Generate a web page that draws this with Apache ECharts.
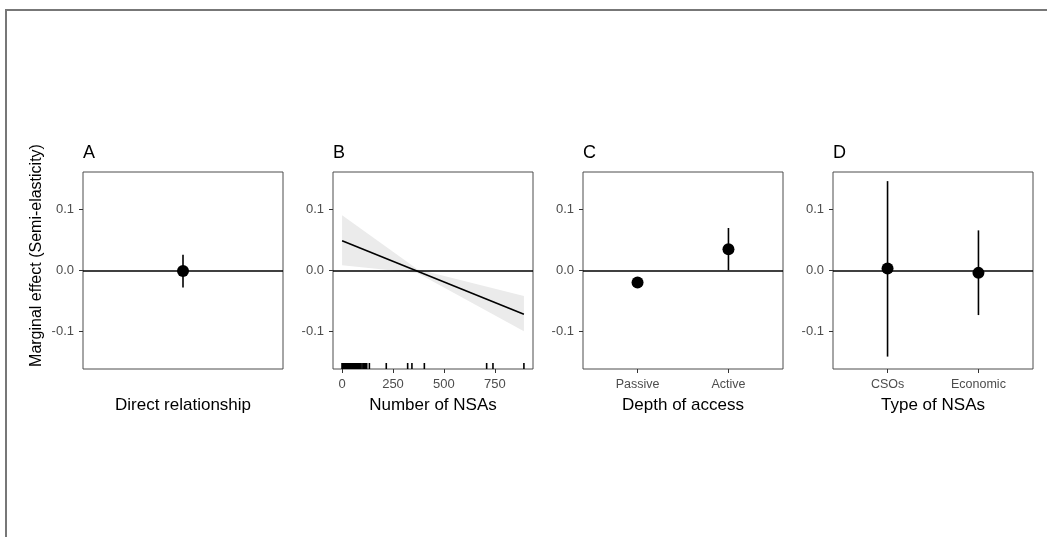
<!DOCTYPE html>
<html>
<head>
<meta charset="utf-8">
<script src="https://cdn.jsdelivr.net/npm/echarts@6/dist/echarts.min.js"></script>
<style>
  html, body { margin: 0; padding: 0; background: #fff; }
  #chart { width: 1047px; height: 537px; }
</style>
</head>
<body>
<div id="chart"></div>
<script>
// panel labels and axis titles
const panelLetters = ['A', 'B', 'C', 'D'];
const axisTitles = ['Direct relationship', 'Number of NSAs', 'Depth of access', 'Type of NSAs'];
const yTitle = 'Marginal effect (Semi-elasticity)';
const yTicks = [-0.1, 0, 0.1];

// A: direct relationship
const directEst = [-0.001];
const directLow = [-0.028];
const directHigh = [0.026];

// B: number of NSAs
const nsaTicks = [0, 250, 500, 750];
const nsaFitX = [0, 893];
const nsaFitY = [0.049, -0.072];
const nsaBandX = [0, 370, 893];
const nsaBandLow = [0.0087, -0.004, -0.1];
const nsaBandHigh = [0.0907, 0.002, -0.042];
const nsaRug = [0, 2, 4, 6, 9, 11, 14, 16, 19, 22, 25, 28, 31, 34, 37, 40, 44, 48, 52, 56,
    60, 65, 70, 75, 80, 86, 92, 98, 104, 110, 116, 121, 134, 217, 322, 343, 404, 710, 741, 893];

// C: depth of access
const depthCats = ['Passive', 'Active'];
const depthEst = [-0.0197, 0.0349];
const depthLow = [-0.024, 0.0005];
const depthHigh = [-0.015, 0.0699];

// D: type of NSAs
const typeCats = ['CSOs', 'Economic'];
const typeEst = [0.0033, -0.0039];
const typeLow = [-0.1416, -0.0733];
const typeHigh = [0.147, 0.066];

const FONT = '"Liberation Sans", Arial, sans-serif';
const lefts = [83, 333, 583, 833];
const TOP = 172, W = 200, H = 197;
const TICK = {show: true, length: 4, lineStyle: {color: '#333'}};

const chart = echarts.init(document.getElementById('chart'));

const grids = lefts.map((l) => ({
    left: l, top: TOP, width: W, height: H,
    show: true, borderColor: '#4d4d4d', borderWidth: 1,
    backgroundColor: 'transparent',
}));

const titles = panelLetters.map((t, i) => ({
    text: t, left: lefts[i], top: 144, padding: 0,
    textStyle: {fontFamily: FONT, fontSize: 18, fontWeight: 'normal', color: '#000'},
}));

function labelStyle(extra) {
    return Object.assign({fontFamily: FONT, fontSize: 13, color: '#4d4d4d', margin: 9}, extra);
}

function baseX(i, extra) {
    return Object.assign({
        type: 'value', gridIndex: i,
        name: axisTitles[i], nameLocation: 'middle', nameGap: 28,
        nameTextStyle: {fontFamily: FONT, fontSize: 17, color: '#000'},
        axisLine: {show: false, onZero: false},
        splitLine: {show: false},
    }, extra);
}

const catFmt = (cats) => (v) => cats[Math.round(v) - 1] || '';

const xAxes = [
    baseX(0, {min: 0.4, max: 1.6, axisTick: {show: false}, axisLabel: {show: false}}),
    baseX(1, {min: -44.65, max: 937.65,
        axisTick: Object.assign({customValues: nsaTicks}, TICK),
        axisLabel: labelStyle({customValues: nsaTicks})}),
    baseX(2, {min: 0.4, max: 2.6,
        axisTick: Object.assign({customValues: [1, 2]}, TICK),
        axisLabel: labelStyle({fontSize: 12.5, customValues: [1, 2], formatter: catFmt(depthCats)})}),
    baseX(3, {min: 0.4, max: 2.6,
        axisTick: Object.assign({customValues: [1, 2]}, TICK),
        axisLabel: labelStyle({fontSize: 12.5, customValues: [1, 2], formatter: catFmt(typeCats)})}),
];

const yAxes = lefts.map((l, i) => ({
    type: 'value', gridIndex: i, min: -0.162, max: 0.162,
    name: i === 0 ? yTitle : '',
    nameLocation: 'middle', nameGap: 38, nameRotate: 90,
    nameTextStyle: {fontFamily: FONT, fontSize: 16, color: '#000', padding: [0, 0, 0, 30]},
    axisLine: {show: false, onZero: false},
    splitLine: {show: false},
    axisTick: Object.assign({customValues: yTicks}, TICK),
    axisLabel: labelStyle({
        customValues: yTicks,
        formatter: (v) => (Math.abs(v) < 1e-9 ? 0 : v).toFixed(1),
    }),
}));

function zeroLine() {
    return {
        silent: true, symbol: ['none', 'none'],
        label: {show: false},
        lineStyle: {color: '#000', width: 1.5, type: 'solid', opacity: 1},
        data: [{yAxis: 0}],
    };
}

function errorBars(i, xs, low, high) {
    return {
        type: 'custom', xAxisIndex: i, yAxisIndex: i, silent: true, z: 3,
        data: xs.map((x, k) => [x, low[k], high[k]]),
        renderItem: (params, api) => {
            const a = api.coord([api.value(0), api.value(1)]);
            const b = api.coord([api.value(0), api.value(2)]);
            return {
                type: 'line',
                shape: {x1: a[0], y1: a[1], x2: b[0], y2: b[1]},
                style: {stroke: '#000', lineWidth: 1.6},
            };
        },
        markLine: zeroLine(),
    };
}

function points(i, xs, ys) {
    return {
        type: 'scatter', xAxisIndex: i, yAxisIndex: i, silent: true, z: 4,
        symbol: 'circle', symbolSize: 12,
        itemStyle: {color: '#000', opacity: 1},
        data: xs.map((x, k) => [x, ys[k]]),
    };
}

const series = [
    // A
    errorBars(0, [1], directLow, directHigh),
    points(0, [1], directEst),
    // B
    {
        type: 'custom', xAxisIndex: 1, yAxisIndex: 1, silent: true, z: 1,
        data: [[nsaBandX[0], nsaBandLow[0]]],
        renderItem: (params, api) => {
            const upper = nsaBandX.map((x, k) => api.coord([x, nsaBandHigh[k]]));
            const lower = nsaBandX.map((x, k) => api.coord([x, nsaBandLow[k]])).reverse();
            return {
                type: 'polygon',
                shape: {points: upper.concat(lower)},
                style: {fill: '#ebebeb'},
            };
        },
        markLine: zeroLine(),
    },
    {
        type: 'line', xAxisIndex: 1, yAxisIndex: 1, silent: true, z: 3,
        showSymbol: false,
        lineStyle: {color: '#000', width: 1.6},
        data: nsaFitX.map((x, k) => [x, nsaFitY[k]]),
    },
    {
        type: 'scatter', xAxisIndex: 1, yAxisIndex: 1, silent: true, z: 2,
        symbol: 'rect', symbolSize: [1.6, 6], symbolOffset: [0, -3],
        itemStyle: {color: '#000', opacity: 1},
        data: nsaRug.map((x) => [x, -0.162]),
    },
    // C
    errorBars(2, [1, 2], depthLow, depthHigh),
    points(2, [1, 2], depthEst),
    // D
    errorBars(3, [1, 2], typeLow, typeHigh),
    points(3, [1, 2], typeEst),
];

chart.setOption({
    animation: false,
    backgroundColor: '#fff',
    title: titles,
    grid: grids,
    xAxis: xAxes,
    yAxis: yAxes,
    series: series,
    graphic: [
        {type: 'line', shape: {x1: 5, y1: 10, x2: 1047, y2: 10}, style: {stroke: '#777', lineWidth: 2}},
        {type: 'line', shape: {x1: 6, y1: 10, x2: 6, y2: 537}, style: {stroke: '#777', lineWidth: 2}},
    ],
});
</script>
</body>
</html>
